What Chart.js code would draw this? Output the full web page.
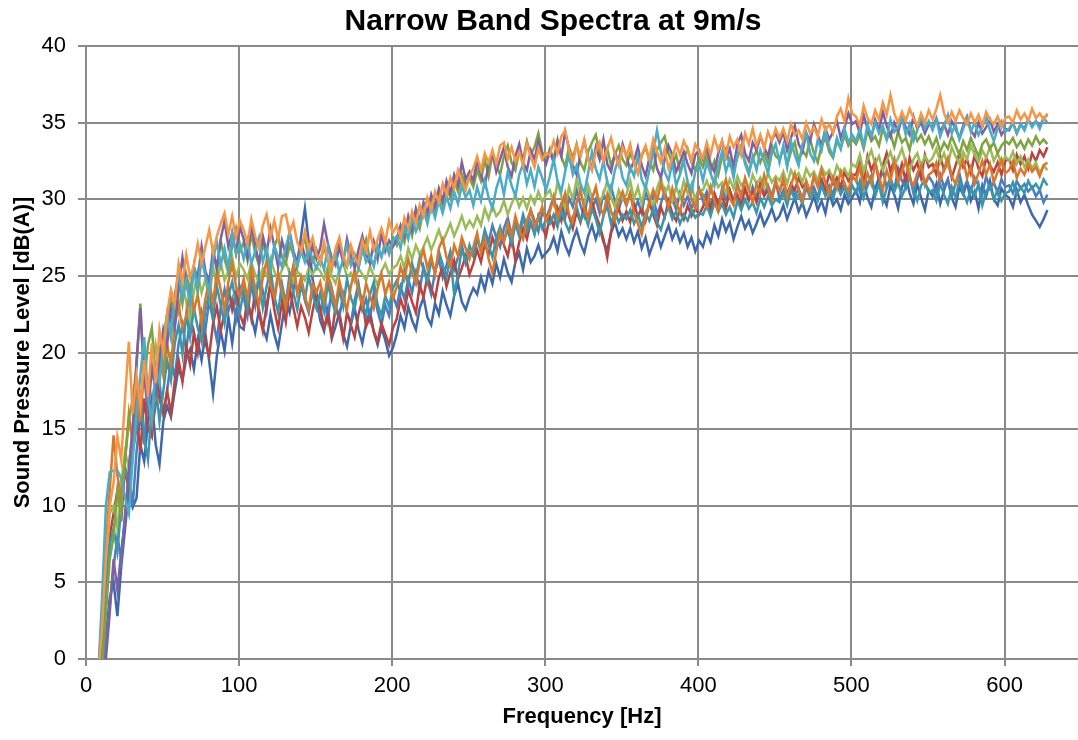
<!DOCTYPE html>
<html>
<head>
<meta charset="utf-8">
<title>Narrow Band Spectra at 9m/s</title>
<script src="https://cdn.jsdelivr.net/npm/chart.js@4.4.1/dist/chart.umd.min.js"></script>
<style>
  html, body { margin: 0; padding: 0; background: #fff; }
  #wrap { width: 1078px; height: 740px; position: relative; }
</style>
</head>
<body>
<div id="wrap"><canvas id="spectra"></canvas></div>
<script>
// frequency bins [Hz]
const freqs = [
  8, 10.5, 13, 15.5, 18, 20.5, 23, 25.5, 28, 30.5, 33, 35.5, 38, 40.5, 43, 45.5, 48, 50.5,
  53, 55.5, 58, 60.5, 63, 65.5, 68, 70.5, 73, 75.5, 78, 80.5, 83, 85.5, 88, 90.5, 93, 95.5, 98, 100.5,
  103, 105.5, 108, 110.5, 113, 115.5, 118, 120.5, 123, 125.5, 128, 130.5, 133, 135.5, 138, 140.5, 143, 145.5, 148, 150.5,
  153, 155.5, 158, 160.5, 163, 165.5, 168, 170.5, 173, 175.5, 178, 180.5, 183, 185.5, 188, 190.5, 193, 195.5, 198, 200.5,
  203, 205.5, 208, 210.5, 213, 215.5, 218, 220.5, 223, 225.5, 228, 230.5, 233, 235.5, 238, 240.5, 243, 245.5, 248, 250.5,
  253, 255.5, 258, 260.5, 263, 265.5, 268, 270.5, 273, 275.5, 278, 280.5, 283, 285.5, 288, 290.5, 293, 295.5, 298, 300.5,
  303, 305.5, 308, 310.5, 313, 315.5, 318, 320.5, 323, 325.5, 328, 330.5, 333, 335.5, 338, 340.5, 343, 345.5, 348, 350.5,
  353, 355.5, 358, 360.5, 363, 365.5, 368, 370.5, 373, 375.5, 378, 380.5, 383, 385.5, 388, 390.5, 393, 395.5, 398, 400.5,
  403, 405.5, 408, 410.5, 413, 415.5, 418, 420.5, 423, 425.5, 428, 430.5, 433, 435.5, 438, 440.5, 443, 445.5, 448, 450.5,
  453, 455.5, 458, 460.5, 463, 465.5, 468, 470.5, 473, 475.5, 478, 480.5, 483, 485.5, 488, 490.5, 493, 495.5, 498, 500.5,
  503, 505.5, 508, 510.5, 513, 515.5, 518, 520.5, 523, 525.5, 528, 530.5, 533, 535.5, 538, 540.5, 543, 545.5, 548, 550.5,
  553, 555.5, 558, 560.5, 563, 565.5, 568, 570.5, 573, 575.5, 578, 580.5, 583, 585.5, 588, 590.5, 593, 595.5, 598, 600.5,
  603, 605.5, 608, 610.5, 613, 615.5, 618, 620.5, 623, 625.5, 628
];

const xTicks = [0, 100, 200, 300, 400, 500, 600];
const yTicks = [0, 5, 10, 15, 20, 25, 30, 35, 40];

// sound pressure level per measurement [dB(A)]
const darkBlue = [
  -3, -1, 1.5, 4, 5, 2.8, 6, 8.5, 11, 9.9, 10.5, 14, 12.9, 15.5, 17, 14, 12.7, 15.5,
  16.5, 15.8, 17.5, 19, 18.2, 19.6, 20.2, 18.9, 20.8, 19.5, 21.2, 19.4, 17.3, 19.8, 21.4, 20.1, 22.3, 20.6, 22.6, 21.7,
  21.5, 23.2, 22.4, 21.3, 22.8, 21.6, 20.9, 22.5, 21.2, 20.3, 21.9, 23.4, 22.6, 24.1, 25.8, 27.6, 29.4, 27.2, 24.8, 23.6,
  22.1, 21.4, 22.8, 20.9, 21.7, 22.6, 21.2, 20.4, 21.8, 22.9, 21.5, 20.6, 21.9, 22.7, 21.3, 20.5, 21.6, 20.8, 19.8, 20.3,
  21.2, 22.4, 21.6, 23.0, 22.1, 21.5, 22.9, 23.6, 22.3, 21.8, 23.2, 22.5, 24.0, 23.1, 22.4, 23.7, 24.5, 23.3, 22.8, 23.6,
  24.2, 23.8, 24.9, 24.1, 25.3, 24.5, 25.8, 24.9, 26.1, 25.2, 24.6, 25.9, 26.5, 25.4, 26.8, 25.9, 26.3, 27.0, 26.2, 26.5,
  26.8, 27.5, 26.6, 27.9, 27.0, 26.4, 27.3, 28.0, 27.1, 26.5, 27.6, 28.3, 27.4, 28.2, 27.2, 26.7, 27.8, 28.5, 27.6, 28.1,
  27.4, 28.1, 27.2, 27.9, 26.8, 27.5, 26.4, 27.1, 27.8, 26.9, 27.6, 28.3, 27.4, 28.0, 27.2, 27.8, 26.9, 27.5, 26.6, 27.3,
  26.9, 27.8, 27.2, 28.3, 27.6, 28.7, 27.9, 28.5, 27.4, 28.2, 28.9, 28.1, 28.6, 27.8, 28.4, 29.1, 28.3, 28.8, 29.4, 28.6,
  28.9, 29.6, 28.7, 29.4, 30.1, 29.2, 29.8, 28.9, 29.5, 30.2, 29.3, 29.9, 29.1, 30.4, 29.6, 30.0, 29.3, 30.3, 29.7, 30.1,
  30.6, 29.8, 31.2, 30.1, 29.5, 30.7, 31.4, 30.2, 29.6, 30.9, 30.3, 29.4, 30.8, 31.5, 30.4, 29.7, 31.0, 30.1, 29.3, 30.6,
  30.2, 31.0, 29.7, 30.6, 31.3, 30.1, 29.5, 30.8, 30.3, 31.1, 29.9, 30.5, 29.4, 30.9, 30.2, 31.2, 30.0, 29.6, 30.7, 30.3,
  30.1, 29.5, 30.6, 29.8, 30.3, 29.6, 29.0, 28.6, 28.2, 28.7, 29.3
];
const blue = [
  -4, -1.5, 1, 3.5, 6, 8, 6.5, 9.5, 12, 10, 13.5, 16, 14, 17.5, 15, 16.5, 18, 16,
  17.5, 19.5, 18.4, 20.6, 21.8, 20.1, 22.4, 21.2, 20.3, 22.6, 21.5, 23.4, 22.1, 20.8, 22.9, 24.1, 22.7, 23.5, 22.2, 24.3,
  23.6, 22.4, 24.5, 23.1, 25.3, 24.0, 22.7, 24.6, 23.3, 25.1, 23.8, 22.5, 24.2, 25.6, 23.9, 24.8, 23.4, 22.6, 24.1, 23.0,
  22.4, 23.6, 22.1, 24.2, 23.0, 22.3, 23.8, 22.6, 21.9, 23.4, 24.5, 22.8, 23.5, 22.2, 23.9, 22.7, 21.8, 23.1, 22.4, 23.7,
  23.0, 24.3, 23.5, 24.8, 23.9, 25.2, 24.1, 25.6, 24.7, 23.8, 25.3, 26.1, 24.9, 25.7, 26.6, 25.4, 26.2, 27.0, 25.8, 26.5,
  26.3, 27.4, 26.8, 28.0, 27.2, 28.3, 27.5, 26.9, 28.1, 28.8, 27.7, 28.5, 27.9, 29.0, 28.2, 29.3, 28.6, 27.9, 29.1, 28.8,
  29.4, 30.2, 29.0, 29.7, 28.8, 30.1, 29.5, 30.6, 29.6, 28.9, 30.3, 29.4, 30.0, 29.1, 30.4, 29.7, 30.8, 29.9, 29.3, 30.2,
  29.6, 30.4, 29.2, 29.9, 29.1, 30.5, 29.8, 30.2, 29.0, 29.7, 30.6, 29.5, 30.1, 29.3, 30.4, 29.6, 30.2, 29.4, 30.0, 30.7,
  29.9, 30.5, 29.6, 30.3, 29.4, 30.7, 30.0, 30.6, 29.8, 31.0, 30.2, 30.7, 29.9, 30.8, 30.1, 31.1, 30.3, 30.9, 30.2, 31.2,
  30.0, 30.6, 29.8, 30.9, 30.2, 30.7, 30.0, 31.1, 30.4, 30.8, 30.1, 31.2, 30.5, 30.9, 30.3, 31.3, 30.6, 31.0, 30.4, 31.4,
  31.3, 30.5, 31.8, 30.9, 31.5, 30.2, 31.1, 31.9, 30.8, 31.4, 30.6, 32.0, 31.2, 30.7, 31.6, 30.4, 31.3, 31.9, 30.9, 31.5,
  31.1, 30.4, 31.6, 30.8, 31.3, 30.2, 31.0, 31.7, 30.6, 31.2, 30.5, 31.4, 30.9, 30.3, 31.5, 30.7, 31.1, 30.4, 31.3, 30.8,
  30.9, 30.4, 31.2, 30.7, 31.0, 30.5, 30.8, 30.2, 30.6, 29.8, 30.3
];
const red = [
  -2, 0.5, 4, 8, 9.5, 11, 9, 12.5, 11, 14.5, 16, 13.5, 17, 15, 14.5, 18.5, 17, 16,
  17.5, 16.0, 18.2, 19.5, 18.1, 20.4, 19.2, 21.3, 20.0, 22.1, 20.6, 19.8, 21.9, 23.0, 21.4, 22.6, 24.2, 22.8, 23.9, 22.5,
  21.8, 23.5, 22.2, 24.0, 22.6, 21.4, 23.1, 24.5, 22.8, 21.6, 23.3, 22.0, 24.2, 22.9, 21.7, 23.0, 22.3, 21.3, 22.7, 23.9,
  22.9, 21.6, 22.4, 21.1, 23.0, 22.2, 20.9, 22.6, 21.8, 21.0, 22.5, 23.4, 21.7, 22.3, 21.4, 20.7, 21.9, 21.2, 20.5, 21.6,
  22.2, 23.5, 22.7, 24.1, 23.3, 22.6, 24.4, 23.6, 25.0, 24.2, 23.5, 24.9, 25.6, 24.3, 25.2, 26.0, 24.8, 25.5, 26.3, 25.1,
  25.8, 26.7, 25.9, 27.1, 26.4, 27.5, 26.8, 27.9, 27.0, 26.3, 27.6, 26.0, 27.2, 28.1, 27.4, 28.5, 27.8, 28.9, 28.2, 27.6,
  28.9, 28.2, 29.4, 28.6, 29.8, 28.9, 28.1, 29.2, 28.5, 29.6, 28.7, 29.9, 29.0, 28.3, 27.4, 26.2, 27.9, 28.8, 29.4, 28.6,
  29.2, 28.5, 29.7, 28.9, 29.4, 28.6, 29.8, 29.0, 28.3, 29.5, 28.8, 29.9, 29.1, 28.6, 29.3, 28.7, 29.6, 28.9, 29.4, 29.0,
  29.5, 30.1, 29.3, 30.4, 29.7, 30.2, 29.4, 30.6, 29.9, 30.3, 29.6, 30.7, 30.0, 30.5, 29.8, 30.9, 30.2, 30.6, 30.0, 31.1,
  30.5, 31.2, 30.3, 31.0, 30.6, 31.4, 30.8, 31.1, 30.4, 31.5, 30.9, 31.3, 30.6, 31.7, 31.0, 31.4, 30.8, 31.8, 31.2, 31.6,
  31.6, 32.4, 31.3, 32.8, 31.9, 32.5, 31.2, 32.2, 33.0, 31.8, 32.6, 31.5, 32.3, 31.1, 32.7, 31.9, 32.4, 31.4, 32.9, 32.1,
  32.3, 31.6, 32.8, 31.9, 32.5, 31.4, 32.2, 33.0, 32.1, 32.6, 31.7, 32.9, 32.0, 31.5, 32.7, 32.2, 31.8, 32.4, 31.6, 32.5,
  32.6, 31.9, 32.9, 32.3, 32.8, 32.0, 33.0, 32.5, 33.2, 32.8, 33.4
];
const teal = [
  -2.5, 1, 4.5, 7.5, 8.5, 7, 10, 12.5, 11.5, 13.5, 15, 17.5, 14.5, 13, 16.5, 18, 15.5, 17.5,
  19.5, 18.2, 20.6, 21.8, 19.9, 22.5, 21.0, 22.9, 21.6, 20.7, 22.8, 23.9, 22.4, 24.3, 23.1, 21.9, 23.7, 24.6, 23.2, 22.6,
  24.1, 22.8, 25.0, 23.6, 24.7, 22.9, 24.3, 25.4, 23.7, 22.6, 24.5, 23.2, 25.1, 23.9, 22.8, 24.4, 23.5, 25.0, 23.8, 22.9,
  23.9, 22.7, 24.5, 23.4, 22.6, 24.1, 23.0, 24.8, 23.6, 22.9, 24.3, 23.2, 22.5, 23.8, 24.6, 23.1, 22.4, 23.7, 23.0, 24.2,
  24.7, 23.9, 25.3, 24.5, 25.8, 24.9, 26.2, 25.4, 24.6, 26.0, 25.2, 26.6, 25.7, 24.9, 26.3, 23.8, 25.1, 26.8, 25.9, 27.0,
  26.3, 27.4, 26.6, 27.8, 27.0, 26.2, 27.5, 28.2, 27.3, 28.0, 27.1, 28.4, 27.6, 28.8, 27.9, 28.5, 27.7, 28.9, 28.1, 28.7,
  28.4, 29.0, 28.2, 29.3, 28.5, 27.9, 28.8, 29.5, 28.6, 29.1, 28.3, 29.4, 28.7, 27.8, 28.9, 29.6, 28.4, 29.2, 28.5, 29.0,
  28.7, 29.3, 28.4, 29.0, 28.2, 29.1, 28.6, 29.4, 28.5, 28.0, 28.9, 29.5, 28.7, 29.2, 28.4, 29.0, 28.6, 29.3, 28.8, 29.1,
  29.0, 29.6, 28.9, 29.8, 29.2, 29.7, 29.0, 29.5, 28.8, 29.9, 29.3, 30.0, 29.4, 29.8, 29.1, 30.1, 29.5, 30.2, 29.6, 30.0,
  29.8, 30.4, 29.6, 30.6, 30.0, 30.3, 29.7, 30.8, 30.1, 30.5, 29.9, 30.9, 30.2, 30.7, 30.0, 31.0, 30.3, 30.8, 30.1, 30.9,
  30.4, 31.2, 30.1, 30.9, 31.5, 30.3, 31.0, 29.8, 30.7, 31.3, 30.5, 31.1, 30.2, 30.8, 31.4, 30.6, 29.9, 30.9, 31.2, 30.4,
  30.6, 29.9, 31.0, 30.3, 29.7, 30.8, 30.1, 31.2, 30.4, 29.8, 30.7, 30.2, 31.0, 29.6, 30.5, 30.9, 30.0, 30.6, 29.9, 30.4,
  30.5, 31.1, 30.3, 30.8, 30.4, 31.2, 30.7, 31.0, 30.6, 31.3, 30.9
];
const darkOrange = [
  -1, 3, 7.5, 11, 14.6, 12, 10.5, 13, 16, 14, 17.5, 15.5, 19, 16.5, 15.5, 18, 20, 18.5,
  20.5, 19.2, 21.8, 23.1, 21.6, 22.4, 24.2, 22.7, 23.8, 21.9, 23.5, 24.7, 23.2, 25.3, 24.1, 22.8, 24.6, 25.8, 24.3, 23.7,
  24.8, 23.5, 25.6, 24.2, 23.1, 24.9, 26.0, 24.4, 23.6, 25.2, 24.1, 22.9, 24.6, 25.7, 23.8, 24.9, 23.7, 22.8, 24.5, 23.9,
  24.6, 23.4, 25.2, 24.1, 23.0, 24.7, 23.6, 22.8, 24.3, 25.4, 23.9, 23.1, 24.5, 23.7, 22.9, 24.2, 25.1, 23.8, 24.6, 23.5,
  24.3, 25.6, 24.8, 26.1, 25.2, 24.5, 25.9, 26.7, 25.5, 26.3, 25.1, 26.8, 27.4, 26.2, 25.6, 27.0, 26.3, 27.5, 26.8, 26.1,
  26.9, 27.8, 26.5, 27.4, 26.1, 25.2, 26.6, 27.9, 27.2, 28.4, 27.6, 28.9, 28.0, 27.4, 28.6, 29.3, 28.2, 28.8, 29.5, 28.6,
  29.2, 30.1, 28.8, 29.6, 30.4, 29.0, 28.5, 29.8, 30.6, 29.4, 28.7, 30.0, 30.8, 29.5, 29.0, 30.3, 29.2, 28.6, 29.9, 30.5,
  29.6, 30.4, 29.1, 28.4, 27.7, 28.9, 29.8, 30.6, 29.9, 31.0, 30.2, 29.5, 30.7, 29.8, 29.1, 30.4, 31.1, 30.0, 29.4, 30.6,
  30.3, 29.5, 30.8, 29.9, 29.2, 30.5, 31.3, 30.1, 29.6, 30.9, 30.2, 31.4, 30.6, 29.8, 31.0, 30.4, 31.6, 30.7, 30.0, 31.2,
  30.5, 31.4, 30.1, 30.9, 31.7, 30.6, 29.9, 31.2, 30.4, 31.5, 30.8, 31.9, 31.1, 30.3, 31.4, 30.7, 31.8, 31.0, 30.5, 31.6,
  31.2, 32.1, 30.8, 31.7, 31.0, 32.3, 31.5, 30.6, 31.9, 31.2, 32.4, 31.1, 31.8, 32.5, 31.3, 30.9, 31.7, 32.2, 31.0, 31.6,
  31.8, 32.4, 31.2, 32.0, 32.7, 31.5, 31.0, 31.9, 32.6, 31.4, 32.1, 31.0, 31.7, 32.5, 31.6, 32.3, 31.1, 31.8, 32.6, 31.7,
  31.9, 32.5, 31.4, 32.0, 31.6, 32.3, 31.8, 32.1, 31.5, 32.2, 32.4
];
const green = [
  -1.5, 2, 6, 9.5, 10, 8.5, 11.5, 13.5, 12.5, 15, 18, 16.5, 19.5, 17.5, 18.5, 20.5, 19, 21,
  22.5, 21.1, 23.4, 22.6, 24.5, 23.3, 22.1, 24.0, 25.2, 23.9, 24.8, 23.5, 25.6, 24.4, 25.9, 24.7, 25.3, 26.2, 24.9, 25.8,
  25.4, 24.8, 25.9, 25.1, 24.6, 25.5, 25.0, 26.1, 25.3, 24.7, 25.4, 25.9, 25.2, 24.6, 25.3, 25.0, 24.7, 25.5, 25.1, 25.6,
  25.3, 24.8, 25.6, 25.0, 24.5, 25.4, 25.9, 24.9, 25.2, 24.6, 25.5, 25.1, 24.7, 25.6, 25.0, 24.4, 25.3, 25.8, 25.1, 25.5,
  25.7, 26.3, 25.5, 26.8, 26.1, 27.0, 26.4, 26.9, 27.5, 26.7, 27.3, 28.0, 27.2, 27.8, 28.4, 27.6, 28.2, 28.9, 28.1, 28.6,
  28.2, 28.9, 28.3, 29.4, 28.7, 29.6, 28.9, 29.2, 29.9, 29.0, 29.7, 30.3, 29.5, 30.1, 29.4, 30.2, 29.7, 30.5, 29.8, 30.3,
  30.6, 29.7, 31.1, 30.2, 29.4, 30.8, 30.0, 31.3, 30.4, 29.6, 30.9, 30.1, 30.7, 29.8, 30.3, 31.2, 30.1, 29.5, 30.6, 30.0,
  30.3, 31.2, 30.0, 30.8, 29.7, 30.9, 30.2, 29.5, 30.7, 31.4, 30.3, 30.9, 29.9, 30.8, 30.1, 31.2, 30.4, 31.0, 29.9, 30.6,
  30.6, 31.2, 30.5, 31.4, 30.8, 31.1, 30.4, 31.3, 30.7, 31.5, 30.9, 31.2, 30.6, 31.6, 31.0, 31.4, 30.8, 31.7, 31.1, 31.5,
  31.2, 31.8, 31.0, 31.9, 31.4, 31.7, 31.1, 32.0, 31.5, 31.8, 31.2, 32.1, 31.6, 31.9, 31.3, 32.2, 31.7, 32.0, 31.5, 32.3,
  32.1, 32.9, 31.8, 32.6, 33.2, 32.3, 32.8, 31.9, 32.5, 33.1, 32.2, 32.7, 33.3, 32.4, 31.8, 32.6, 33.0, 32.2, 32.8, 32.4,
  32.7, 33.3, 32.4, 33.0, 32.2, 33.4, 32.8, 32.3, 33.1, 32.6, 33.5, 32.9, 32.4, 33.2, 32.7, 33.4, 32.5, 33.0, 32.3, 32.8,
  32.5, 33.1, 32.3, 32.8, 32.1, 32.6, 32.0, 32.4, 31.7, 32.2, 31.9
];
const cyan = [
  -1, 4, 10, 12.2, 12.3, 12.3, 11.8, 10.5, 9.5, 13, 16, 18.5, 21, 17, 15.5, 19, 18, 20.5,
  22.5, 21.0, 23.8, 25.2, 23.5, 24.7, 23.1, 25.6, 24.2, 26.3, 25.0, 23.9, 26.1, 27.2, 25.7, 26.8, 25.5, 27.8, 26.4, 27.1,
  26.1, 27.3, 25.8, 26.6, 27.5, 25.9, 26.8, 25.4, 27.0, 26.2, 25.6, 26.9, 27.8, 26.3, 25.7, 26.6, 25.9, 26.8, 26.1, 25.5,
  26.2, 25.4, 26.9, 25.8, 26.5, 25.2, 26.1, 27.0, 25.7, 26.4, 25.5, 26.8, 25.9, 26.3, 25.6, 26.9, 26.2, 27.1, 26.4, 27.3,
  27.6, 26.8, 28.2, 27.4, 28.8, 27.9, 28.5, 29.3, 28.4, 29.6, 28.8, 29.9, 29.1, 30.2, 29.4, 30.5, 29.7, 30.9, 30.1, 30.6,
  29.6, 30.8, 29.9, 31.2, 30.1, 29.4, 30.7, 31.5, 30.3, 31.8, 30.9, 30.2, 31.6, 32.3, 31.0, 31.9, 30.8, 32.1, 31.4, 30.6,
  31.5, 32.6, 31.2, 30.5, 31.8, 32.9, 31.6, 32.2, 31.0, 30.4, 31.7, 33.1, 32.0, 31.3, 32.5, 31.1, 30.6, 31.9, 32.7, 31.4,
  30.9, 32.1, 31.5, 32.8, 31.3, 30.7, 31.9, 33.0, 34.5, 33.1, 31.8, 31.2, 32.4, 30.9, 31.6, 32.5, 31.1, 30.5, 31.8, 32.3,
  31.2, 32.4, 31.7, 30.9, 32.2, 33.1, 31.8, 32.6, 31.4, 32.9, 33.5, 32.3, 31.6, 32.8, 31.9, 33.2, 32.5, 31.7, 33.0, 33.6,
  32.4, 33.5, 32.1, 33.8, 32.9, 32.2, 33.6, 34.3, 33.0, 32.5, 33.9, 33.2, 34.5, 33.4, 32.8, 34.0, 33.3, 34.6, 33.7, 34.2,
  33.8, 34.6, 33.5, 34.9, 34.1, 35.0, 34.3, 34.8, 33.9, 35.2, 34.4, 34.7, 35.3, 34.2, 34.9, 33.8, 34.5, 35.4, 34.6, 35.1,
  34.5, 35.2, 34.1, 34.8, 35.5, 34.3, 34.9, 33.9, 34.6, 35.3, 34.4, 35.0, 34.2, 34.7, 35.4, 34.5, 33.8, 34.6, 35.1, 34.4,
  34.6, 35.0, 34.3, 34.9, 34.5, 35.2, 34.7, 35.1, 34.6, 35.3, 35.0
];
const olive = [
  -3.5, -0.5, 3, 6.5, 8, 11, 9.5, 13, 15.5, 17, 19, 23.2, 18, 20.5, 21.6, 18.5, 20, 19,
  21.5, 23.5, 22.4, 24.8, 23.2, 25.1, 24.0, 25.5, 23.9, 26.2, 25.0, 24.3, 26.5, 25.4, 27.3, 26.1, 25.2, 27.0, 28.1, 26.6,
  27.2, 26.0, 27.8, 26.5, 25.7, 27.1, 26.3, 25.5, 26.9, 27.6, 26.2, 25.8, 27.0, 26.4, 25.6, 26.8, 27.4, 26.1, 25.9, 26.7,
  25.8, 26.9, 26.0, 25.4, 26.6, 27.3, 26.1, 25.6, 26.8, 26.2, 25.5, 26.7, 27.4, 26.0, 25.7, 26.9, 26.3, 27.2, 26.6, 27.5,
  27.0, 27.9, 27.2, 28.5, 27.6, 28.9, 28.1, 29.4, 28.6, 29.9, 29.2, 30.4, 29.6, 30.8, 30.1, 31.2, 30.5, 31.6, 30.9, 31.4,
  30.8, 31.9, 31.2, 32.6, 31.5, 32.9, 32.2, 31.6, 32.8, 33.5, 32.4, 31.9, 33.2, 32.6, 33.8, 32.9, 33.4, 34.3, 33.1, 32.5,
  33.3, 32.6, 33.9, 32.8, 32.1, 33.4, 32.7, 33.6, 32.4, 31.9, 33.1, 33.7, 34.2, 33.0, 32.5, 33.3, 32.2, 32.9, 33.5, 32.6,
  32.2, 33.0, 32.4, 31.7, 32.8, 33.4, 32.5, 31.9, 33.2, 33.7, 34.1, 33.0, 32.3, 32.9, 31.8, 32.6, 33.3, 32.4, 31.9, 32.7,
  32.1, 32.9, 31.8, 32.5, 31.6, 32.8, 33.3, 32.2, 31.9, 32.7, 33.4, 32.5, 31.8, 32.6, 33.2, 32.4, 33.0, 32.3, 33.5, 32.8,
  32.6, 33.4, 32.2, 33.1, 33.7, 32.5, 33.2, 32.8, 33.9, 33.0, 32.4, 33.5, 34.0, 33.1, 32.7, 33.8, 33.3, 34.2, 33.5, 33.9,
  33.6, 34.2, 33.3, 34.5, 33.8, 34.1, 33.5, 34.6, 33.9, 34.3, 33.4, 34.4, 33.7, 34.0, 33.2, 34.5, 33.8, 34.2, 33.6, 34.1,
  33.4, 34.0, 33.1, 33.7, 33.3, 34.1, 33.5, 32.9, 33.8, 33.2, 34.0, 33.4, 32.8, 33.6, 33.9, 33.3, 33.7, 33.0, 33.5, 33.8,
  33.6, 34.0, 33.4, 33.8, 33.3, 33.9, 33.5, 34.1, 33.6, 33.9, 33.6
];
const purple = [
  -5, -2.5, 0, 3, 6.5, 4.5, 7, 9, 12.5, 15, 19.5, 22.9, 18.5, 16, 19, 17.5, 19.5, 21.5,
  20.5, 22.8, 21.6, 24.3, 26.2, 24.5, 23.4, 25.6, 24.8, 26.9, 25.3, 24.6, 26.7, 25.5, 27.4, 28.6, 26.9, 27.8, 26.5, 28.2,
  27.4, 26.2, 28.4, 27.0, 25.8, 27.6, 26.5, 28.1, 26.9, 25.6, 27.3, 26.4, 27.9, 26.6, 25.9, 27.2, 26.3, 25.7, 27.0, 26.1,
  26.8, 28.4, 27.1, 26.2, 25.7, 26.9, 25.9, 27.4, 26.3, 25.5, 26.7, 27.6, 26.4, 25.8, 27.2, 26.1, 27.8, 26.6, 27.3, 26.9,
  27.4, 28.3, 27.6, 28.9, 28.0, 29.4, 28.6, 29.8, 29.1, 30.3, 29.5, 30.7, 29.9, 31.2, 30.4, 31.6, 30.9, 32.4, 31.3, 31.8,
  31.2, 32.5, 31.6, 30.9, 32.3, 33.0, 31.8, 32.6, 33.4, 32.1, 31.5, 32.8, 33.6, 32.4, 31.9, 33.2, 32.6, 33.8, 32.9, 32.3,
  33.1, 32.4, 33.7, 32.8, 34.4, 33.3, 32.2, 31.6, 32.9, 33.8, 32.7, 32.0, 33.4, 32.6, 33.9, 32.3, 31.8, 33.0, 32.5, 33.6,
  32.8, 31.9, 32.5, 33.4, 32.2, 31.5, 32.7, 33.3, 32.0, 31.4, 32.6, 33.5, 32.9, 31.8, 32.4, 33.1, 32.3, 31.7, 32.9, 33.2,
  32.6, 33.5, 32.3, 31.8, 33.0, 33.8, 32.7, 33.3, 32.1, 33.6, 34.2, 33.0, 32.5, 33.7, 33.2, 34.1, 33.4, 32.8, 33.9, 34.3,
  33.7, 34.4, 33.2, 34.0, 34.8, 33.6, 33.1, 34.3, 33.8, 34.9, 34.2, 33.5, 34.6, 33.9, 34.4, 35.1, 34.0, 34.7, 35.6, 34.9,
  35.1, 34.3, 35.5, 34.6, 34.0, 35.2, 34.5, 35.7, 34.8, 34.1, 35.0, 34.4, 35.3, 34.7, 34.2, 35.4, 34.6, 35.0, 34.3, 34.9,
  34.7, 35.3, 34.4, 34.9, 34.2, 35.1, 34.6, 34.0, 34.8, 35.4, 34.5, 34.1, 35.0, 34.3, 34.7, 35.2, 34.4, 34.9, 34.2, 34.6,
  34.5, 35.0, 34.3, 34.9, 34.6, 35.2, 34.8, 35.1, 34.7, 35.3, 35.5
];
const orange = [
  -1, 2, 6.5, 10, 11.5, 14.5, 13, 17, 20.7, 16, 18.5, 16.5, 19.5, 17.1, 20.6, 18, 21.5, 20,
  22.5, 24.1, 23.2, 25.8, 24.6, 26.4, 24.9, 25.7, 27.1, 25.8, 26.9, 28.0, 26.5, 27.6, 28.4, 29.1, 27.7, 28.9, 27.5, 28.6,
  28.0, 27.1, 28.7, 27.6, 26.8, 28.3, 29.0, 27.5, 28.6, 27.4, 28.9, 29.0, 27.8, 28.5, 27.2, 26.6, 27.9, 26.8, 27.5, 26.4,
  25.9, 27.2, 26.1, 25.5, 26.8, 27.5, 26.3, 25.7, 27.0, 26.2, 25.8, 27.3, 26.6, 27.9, 26.7, 27.4, 28.1, 27.2, 28.6, 27.8,
  28.3, 27.5, 28.8, 28.1, 29.2, 28.4, 29.6, 28.9, 30.1, 29.3, 30.5, 29.8, 31.0, 30.3, 31.4, 30.7, 31.9, 31.2, 30.6, 31.5,
  32.0, 32.8, 31.9, 33.0, 32.4, 33.2, 32.3, 33.5, 33.7, 32.6, 33.4, 32.5, 33.1, 32.2, 33.6, 32.8, 32.1, 33.3, 32.6, 33.0,
  32.9, 33.8, 33.0, 34.1, 34.5, 33.2, 32.4, 33.5, 32.8, 33.9, 32.6, 31.9, 33.1, 33.7, 32.5, 33.3, 34.0, 32.9, 32.2, 33.4,
  32.8, 33.6, 32.3, 31.7, 32.9, 33.5, 32.6, 33.9, 33.1, 32.4, 33.3, 32.0, 32.7, 33.6, 32.9, 33.8, 33.2, 32.5, 33.6, 33.1,
  32.7, 33.7, 32.9, 34.0, 33.2, 33.8, 32.8, 34.1, 33.4, 33.9, 32.9, 34.3, 33.6, 34.6, 33.5, 34.2, 33.3, 34.4, 33.8, 34.6,
  34.0, 34.6, 33.8, 34.9, 34.2, 34.5, 33.9, 35.0, 34.3, 34.7, 34.1, 35.2, 34.5, 34.9, 34.3, 35.4, 35.9, 35.1, 36.6, 35.6,
  35.4, 34.8, 36.1, 35.3, 34.9, 35.8, 35.2, 36.3, 35.5, 36.8, 35.6, 35.0, 35.7, 35.1, 35.9, 35.3, 34.8, 35.6, 35.0, 35.8,
  35.2, 35.9, 36.8, 35.6, 35.0, 35.7, 35.1, 35.8, 35.3, 34.9, 35.6, 35.0, 35.5, 34.8, 35.7, 35.2, 34.9, 35.4, 34.7, 35.3,
  35.4, 35.0, 35.8, 35.2, 35.6, 35.1, 35.9, 35.3, 35.6, 35.2, 35.6
];

// drawing order: first entry ends up on top
const seriesList = [orange, cyan, purple, olive, darkOrange, teal, green, red, blue, darkBlue];
const seriesColors = ["#f79646", "#4bacc6", "#7f60a3", "#7fa33e", "#d9782c", "#3996ab", "#9bbb59", "#b8433f", "#4a7ebf", "#3d69ab"];

const gridColor = "#8a8a8a";
const fontFamily = "'Liberation Sans', Arial, Helvetica, sans-serif";

// title drawn at a fixed spot, like the original
const titlePlugin = {
  id: "fixedTitle",
  afterDraw(chart) {
    const ctx = chart.ctx;
    ctx.save();
    ctx.fillStyle = "#000";
    ctx.font = "bold 30px " + fontFamily;
    ctx.textAlign = "center";
    ctx.textBaseline = "middle";
    ctx.fillText("Narrow Band Spectra at 9m/s", 553, 22);
    ctx.restore();
  }
};

const datasets = seriesList.map((s, k) => ({
  data: s,
  borderColor: seriesColors[k],
  borderWidth: 2.5,
  pointRadius: 0,
  fill: false,
  tension: 0
}));

new Chart(document.getElementById("spectra"), {
  type: "line",
  data: { labels: freqs, datasets: datasets },
  options: {
    responsive: true,
    maintainAspectRatio: false,
    animation: false,
    layout: { padding: { top: 46, right: 0, left: 0, bottom: 0 } },
    plugins: {
      legend: { display: false },
      tooltip: { enabled: false },
      title: { display: false }
    },
    scales: {
      x: {
        type: "linear",
        min: 0,
        max: 648,
        afterBuildTicks: (scale) => {
          scale.ticks = xTicks.map((v) => ({ value: v }));
        },
        afterFit: (scale) => { scale.height = 81; },
        ticks: { color: "#000", font: { family: fontFamily, size: 22 }, padding: 7, maxRotation: 0 },
        grid: { color: gridColor, lineWidth: 2, tickLength: 7 },
        border: { color: gridColor, width: 2 },
        title: {
          display: true,
          text: "Frequency [Hz]",
          color: "#000",
          font: { family: fontFamily, size: 22, weight: "bold" },
          padding: { top: 0, bottom: 10 }
        }
      },
      y: {
        min: 0,
        max: 40,
        afterBuildTicks: (scale) => {
          scale.ticks = yTicks.map((v) => ({ value: v }));
        },
        afterFit: (scale) => { scale.width = 86; },
        ticks: { color: "#000", font: { family: fontFamily, size: 22 }, padding: 12 },
        grid: { color: gridColor, lineWidth: 2, tickLength: 8 },
        border: { color: gridColor, width: 2 },
        title: {
          display: true,
          text: "Sound Pressure Level [dB(A)]",
          color: "#000",
          font: { family: fontFamily, size: 22, weight: "bold" },
          padding: { top: 10, bottom: 0 }
        }
      }
    }
  },
  plugins: [titlePlugin]
});
</script>
</body>
</html>
